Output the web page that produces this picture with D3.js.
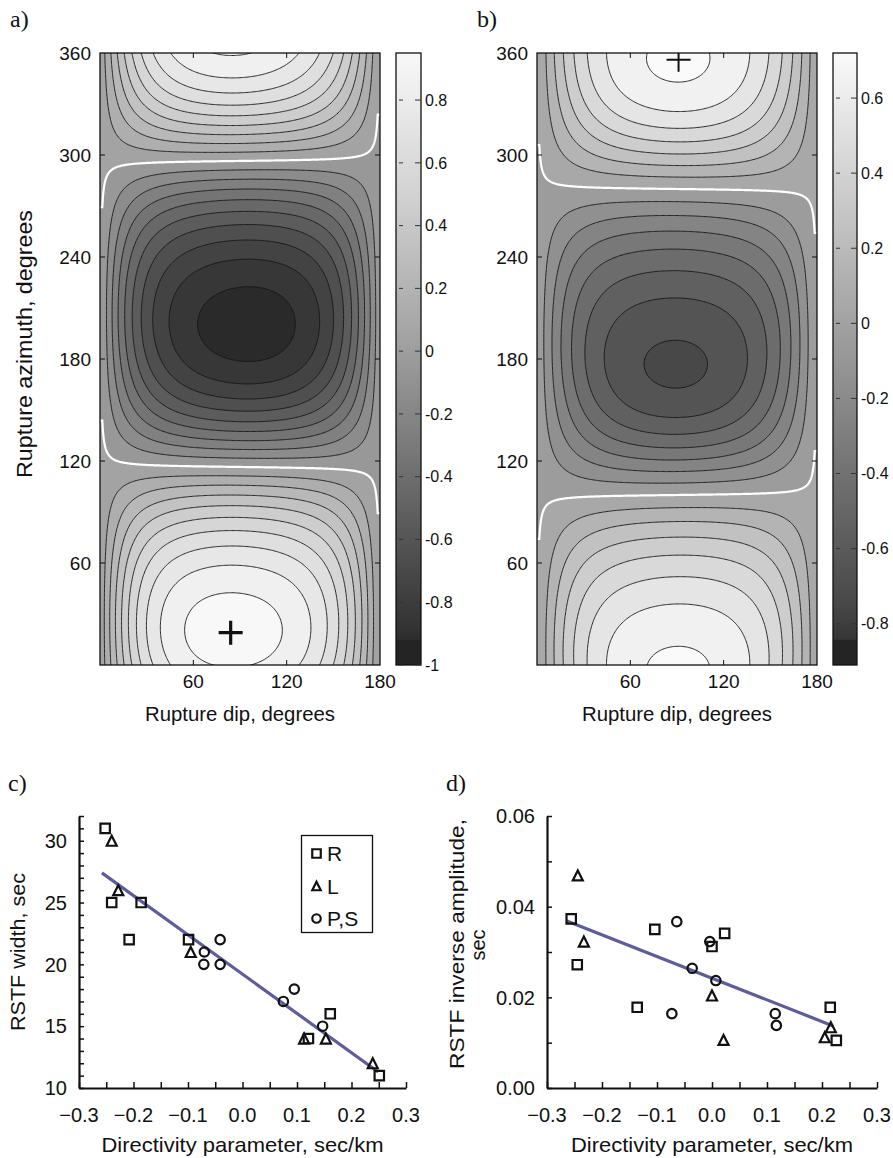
<!DOCTYPE html>
<html>
<head>
<meta charset="utf-8">
<script src="https://cdn.jsdelivr.net/npm/d3@7"></script>
<style>
body { margin: 0; background: #fff; }
svg { display: block; }
</style>
</head>
<body>
<svg></svg>
<script>
// ---------- data ----------
// contour levels
const levelsA = [-0.9, -0.8, -0.7, -0.6, -0.5, -0.4, -0.3, -0.2, -0.1, 0, 0.1, 0.2, 0.3, 0.4, 0.5, 0.6, 0.7, 0.8, 0.9];
const levelsB = [-0.7, -0.6, -0.5, -0.4, -0.3, -0.2, -0.1, 0, 0.1, 0.2, 0.3, 0.4, 0.5, 0.6, 0.7];

// correlation surface: r(v) = s.v / sqrt(v' C v), v = rupture unit vector
const slowA = [0.8815, 0.4395, 0.0118];
const covA = [[0.946, 0.170, -0.0197], [0.170, 0.934, -0.0072], [-0.0197, -0.0072, 0.35]];
const slowB = [0.7337, 0.1294, -0.0085];
const covB = [[1.0434, 0.2462, -0.006], [0.2462, 0.9566, 0], [-0.006, 0, 0.42]];
const dipGrid = [1.5, 178.5];   // dip range of the computed grid

// best rupture (dip, azimuth)
const peakA = [84, 19];
const peakB = [91, 356];

const azTicks = [60, 120, 180, 240, 300, 360];
const dipTicks = [60, 120, 180];
const cbTicksA = [0.8, 0.6, 0.4, 0.2, 0, -0.2, -0.4, -0.6, -0.8, -1];
const cbTicksB = [0.6, 0.4, 0.2, 0, -0.2, -0.4, -0.6, -0.8];

// panel c: RSTF width vs directivity parameter
const rC = [[-0.252, 31], [-0.240, 25], [-0.186, 25], [-0.208, 22], [-0.099, 22], [0.121, 14], [0.161, 16], [0.251, 11]];
const lC = [[-0.240, 30], [-0.228, 26], [-0.095, 21], [0.113, 14], [0.153, 14], [0.239, 12]];
const psC = [[-0.070, 21], [-0.071, 20], [-0.041, 22], [-0.041, 20], [0.075, 17], [0.095, 18], [0.147, 15]];
const fitC = [[-0.258, 27.4], [0.249, 11.3]];

// panel d: RSTF inverse amplitude vs directivity parameter
const rD = [[-0.256, 0.0373], [-0.245, 0.0272], [-0.104, 0.0350], [-0.136, 0.0178], [0.000, 0.0312], [0.023, 0.0341], [0.215, 0.0178], [0.226, 0.0105]];
const lD = [[-0.244, 0.0469], [-0.233, 0.0323], [0.000, 0.0204], [0.021, 0.0106], [0.205, 0.0112], [0.216, 0.0134]];
const psD = [[-0.064, 0.0367], [-0.004, 0.0323], [-0.036, 0.0264], [0.007, 0.0237], [-0.073, 0.0164], [0.115, 0.0164], [0.117, 0.0138]];
const fitD = [[-0.265, 0.0369], [0.220, 0.0137]];

const dirTicks = [-0.3, -0.2, -0.1, 0, 0.1, 0.2, 0.3];
const widthTicks = [10, 15, 20, 25, 30];
const ampTicks = [0, 0.02, 0.04, 0.06];

// ---------- setup ----------
const W = 893, H = 1158;
const svg = d3.select("svg").attr("width", W).attr("height", H).attr("viewBox", [0, 0, W, H]);
svg.append("rect").attr("width", W).attr("height", H).attr("fill", "white");
const sans = "'Liberation Sans', Arial, Helvetica, sans-serif";
const serif = "'Liberation Serif', 'Times New Roman', serif";
const ink = "#111";
const defs = svg.append("defs");

function corr(s, C, dip, az) {
    const d = Math.max(dipGrid[0], Math.min(dipGrid[1], dip));
    const t = d * Math.PI / 180, p = az * Math.PI / 180;
    const v = [Math.sin(t) * Math.cos(p), Math.sin(t) * Math.sin(p), Math.cos(t)];
    let num = 0, den = 0;
    for (let i = 0; i < 3; i++) {
        num += s[i] * v[i];
        for (let j = 0; j < 3; j++) den += v[i] * C[i][j] * v[j];
    }
    return num / Math.sqrt(den);
}

const grey = g => { const k = Math.round(g); return d3.rgb(k, k, k).formatHex(); };

function contourPanel(o) {
    const g = svg.append("g");
    const x = d3.scaleLinear([0, 180], [o.x0, o.x1]);
    const y = d3.scaleLinear([0, 360], [665, 53]);
    const shade = d3.scaleLinear().domain(o.shadeDomain).range(o.shadeRange).clamp(true);

    // grid a bit wider than the plot so boundary rings fall outside the clip
    const step = 0.75, d0 = -3, a0 = -3;
    const nx = Math.round(186 / step) + 1, ny = Math.round(366 / step) + 1;
    const vals = new Float64Array(nx * ny);
    for (let j = 0; j < ny; j++)
        for (let i = 0; i < nx; i++)
            vals[j * nx + i] = corr(o.slow, o.cov, d0 + i * step, a0 + j * step);

    const proj = d3.geoTransform({
        point(px, py) { this.stream.point(x(d0 + (px - 0.5) * step), y(a0 + (py - 0.5) * step)); }
    });
    const path = d3.geoPath(proj);
    const bands = d3.contours().size([nx, ny]).thresholds(o.levels)(vals);

    defs.append("clipPath").attr("id", o.id + "clip")
        .append("rect").attr("x", o.x0).attr("y", 53).attr("width", o.x1 - o.x0).attr("height", 612);
    const pg = g.append("g").attr("clip-path", `url(#${o.id}clip)`);

    pg.append("rect").attr("x", o.x0).attr("y", 53).attr("width", o.x1 - o.x0).attr("height", 612)
        .attr("fill", grey(shade(o.levels[0] - 0.05)));
    pg.selectAll("path.band").data(bands).join("path")
        .attr("class", "band")
        .attr("d", path)
        .attr("fill", d => grey(shade(d.value + 0.05)));
    pg.selectAll("path.iso").data(bands).join("path")
        .attr("class", "iso")
        .attr("d", path)
        .attr("fill", "none")
        .attr("stroke", d => Math.abs(d.value) < 1e-9 ? "#ffffff" : "#151515")
        .attr("stroke-width", d => Math.abs(d.value) < 1e-9 ? 2.2 : 0.9);

    // best-fit marker
    const px = x(o.peak[0]), py = y(o.peak[1]);
    pg.append("path")
        .attr("d", `M${px - o.plus},${py}H${px + o.plus}M${px},${py - o.plus}V${py + o.plus}`)
        .attr("stroke", ink).attr("stroke-width", o.plusW).attr("fill", "none");

    // frame and inner ticks
    g.append("rect").attr("x", o.x0).attr("y", 53).attr("width", o.x1 - o.x0).attr("height", 612)
        .attr("fill", "none").attr("stroke", ink).attr("stroke-width", 1.3);
    const tk = g.append("g").attr("stroke", ink).attr("stroke-width", 1);
    azTicks.filter(v => v < 360).forEach(v => {
        tk.append("line").attr("x1", o.x0).attr("x2", o.x0 + 5).attr("y1", y(v)).attr("y2", y(v));
        tk.append("line").attr("x1", o.x1 - 5).attr("x2", o.x1).attr("y1", y(v)).attr("y2", y(v));
    });
    dipTicks.filter(v => v < 180).forEach(v => {
        tk.append("line").attr("x1", x(v)).attr("x2", x(v)).attr("y1", 665).attr("y2", 660);
        tk.append("line").attr("x1", x(v)).attr("x2", x(v)).attr("y1", 53).attr("y2", 58);
    });

    const lab = g.append("g").attr("font-family", sans).attr("font-size", 19).attr("fill", ink);
    lab.selectAll("text.yt").data(azTicks).join("text").attr("class", "yt")
        .attr("x", o.x0 - 9).attr("y", v => y(v)).attr("dy", "0.36em")
        .attr("text-anchor", "end").text(v => v);
    lab.selectAll("text.xt").data(dipTicks).join("text").attr("class", "xt")
        .attr("x", v => x(v)).attr("y", 688)
        .attr("text-anchor", "middle").text(v => v);
    g.append("text").attr("x", (o.x0 + o.x1) / 2).attr("y", 721)
        .attr("text-anchor", "middle").attr("font-family", sans).attr("font-size", 20)
        .attr("textLength", 190).attr("lengthAdjust", "spacingAndGlyphs")
        .attr("fill", ink).text("Rupture dip, degrees");

    // colour bar
    const cy = d3.scaleLinear(o.cbDomain, [665, 53]);
    const grad = defs.append("linearGradient").attr("id", o.id + "grad")
        .attr("x1", 0).attr("y1", 1).attr("x2", 0).attr("y2", 0);
    const nStop = 40;
    for (let k = 0; k <= nStop; k++) {
        const v = o.cbDomain[0] + (o.cbDomain[1] - o.cbDomain[0]) * k / nStop;
        grad.append("stop").attr("offset", k / nStop).attr("stop-color", grey(shade(v)));
    }
    g.append("rect").attr("x", o.cx0).attr("y", 53).attr("width", o.cx1 - o.cx0).attr("height", 612)
        .attr("fill", `url(#${o.id}grad)`);
    g.append("rect").attr("x", o.cx0).attr("y", cy(o.cbBlock)).attr("width", o.cx1 - o.cx0)
        .attr("height", 665 - cy(o.cbBlock)).attr("fill", "#242424");
    g.append("rect").attr("x", o.cx0).attr("y", 53).attr("width", o.cx1 - o.cx0).attr("height", 612)
        .attr("fill", "none").attr("stroke", ink).attr("stroke-width", 1.3);
    const ct = g.append("g").attr("stroke", "#333").attr("stroke-width", 1);
    o.cbTicks.forEach(v => {
        ct.append("line").attr("x1", o.cx0 + 3).attr("x2", o.cx0 + 7).attr("y1", cy(v)).attr("y2", cy(v));
        ct.append("line").attr("x1", o.cx1 - 6).attr("x2", o.cx1).attr("y1", cy(v)).attr("y2", cy(v));
    });
    g.append("g").attr("font-family", sans).attr("font-size", 16).attr("fill", ink)
        .selectAll("text").data(o.cbTicks).join("text")
        .attr("x", o.cx1 + 4).attr("y", v => cy(v)).attr("dy", "0.36em").text(v => String(v));

    svg.append("text").attr("x", o.tagX).attr("y", 27)
        .attr("font-family", serif).attr("font-size", 24).attr("fill", ink).text(o.tag);
    return g;
}

contourPanel({
    id: "pa", tag: "a)", tagX: 10, x0: 100, x1: 380, cx0: 396, cx1: 421,
    slow: slowA, cov: covA, levels: levelsA, peak: peakA, plus: 12, plusW: 3.2,
    shadeDomain: [-1, -0.5, 0, 0.5, 0.95], shadeRange: [36, 98, 158, 210, 248],
    cbDomain: [-1, 0.95], cbBlock: -0.92, cbTicks: cbTicksA
});
contourPanel({
    id: "pb", tag: "b)", tagX: 477, x0: 537, x1: 817, cx0: 833, cx1: 857,
    slow: slowB, cov: covB, levels: levelsB, peak: peakB, plus: 12, plusW: 2,
    shadeDomain: [-0.91, -0.75, 0, 0.72], shadeRange: [40, 72, 162, 250],
    cbDomain: [-0.91, 0.72], cbBlock: -0.843, cbTicks: cbTicksB
});

svg.append("text")
    .attr("transform", "translate(32,344) rotate(-90)")
    .attr("text-anchor", "middle").attr("font-family", sans).attr("font-size", 22)
    .attr("textLength", 268).attr("lengthAdjust", "spacingAndGlyphs")
    .attr("fill", ink).text("Rupture azimuth, degrees");

// ---------- scatter panels ----------
function markers(g, x, y, data, kind, sz) {
    const h = sz / 2;
    g.selectAll(null).data(data).join("path")
        .attr("d", d => {
            const cx = x(d[0]), cy = y(d[1]);
            if (kind === "sq") return `M${cx - h},${cy - h}h${sz}v${sz}h${-sz}Z`;
            if (kind === "tri") return `M${cx},${cy - h}L${cx + h},${cy + h}L${cx - h},${cy + h}Z`;
            return `M${cx + h},${cy}A${h},${h} 0 1,1 ${cx - h},${cy}A${h},${h} 0 1,1 ${cx + h},${cy}Z`;
        })
        .attr("fill", "none").attr("stroke", ink).attr("stroke-width", 2.2);
}

function scatterPanel(o) {
    const g = svg.append("g");
    const x = d3.scaleLinear([-0.3, 0.3], [o.x0, o.x1]);
    const y = d3.scaleLinear(o.yDomain, [1088, 816]);

    g.append("g").attr("transform", "translate(0,1088)")
        .call(d3.axisBottom(x).tickValues(d3.range(-0.3, 0.31, 0.05)).tickSize(-6).tickSizeOuter(0).tickFormat(""));
    g.append("g").attr("transform", `translate(${o.x0},0)`)
        .call(d3.axisLeft(y).tickValues(o.yMinor).tickSize(-5).tickSizeOuter(0).tickFormat(""));
    g.selectAll(".tick line").attr("stroke", ink).attr("stroke-width", 1.5);
    g.selectAll(".domain").attr("stroke", ink).attr("stroke-width", 2.2);

    const lab = g.append("g").attr("font-family", sans).attr("font-size", 20).attr("fill", ink);
    lab.selectAll("text.xt").data(dirTicks).join("text").attr("class", "xt")
        .attr("x", v => x(v)).attr("y", 1122).attr("text-anchor", "middle")
        .text(d3.format(".1f"));
    lab.selectAll("text.yt").data(o.yTicks).join("text").attr("class", "yt")
        .attr("x", o.x0 - 12).attr("y", v => y(v)).attr("dy", "0.36em").attr("text-anchor", "end")
        .text(o.yFormat);
    g.append("text").attr("x", (o.x0 + o.x1) / 2).attr("y", 1152).attr("text-anchor", "middle")
        .attr("font-family", sans).attr("font-size", 21)
        .attr("textLength", 282).attr("lengthAdjust", "spacingAndGlyphs")
        .attr("fill", ink).text("Directivity parameter, sec/km");

    g.append("line")
        .attr("x1", x(o.fit[0][0])).attr("y1", y(o.fit[0][1]))
        .attr("x2", x(o.fit[1][0])).attr("y2", y(o.fit[1][1]))
        .attr("stroke", "#5d5d9e").attr("stroke-width", 3.2);

    markers(g, x, y, o.R, "sq", 9.4);
    markers(g, x, y, o.L, "tri", 10);
    markers(g, x, y, o.PS, "ci", 9.4);

    svg.append("text").attr("x", o.tagX).attr("y", 791)
        .attr("font-family", serif).attr("font-size", 24).attr("fill", ink).text(o.tag);
    return g;
}

scatterPanel({
    tag: "c)", tagX: 8, x0: 79, x1: 406, yDomain: [10, 32],
    yMinor: d3.range(10, 33, 1), yTicks: widthTicks, yFormat: d3.format("d"),
    R: rC, L: lC, PS: psC, fit: fitC
});
scatterPanel({
    tag: "d)", tagX: 446, x0: 547, x1: 877, yDomain: [0, 0.06],
    yMinor: d3.range(0, 0.0601, 0.01), yTicks: ampTicks, yFormat: d3.format(".2f"),
    R: rD, L: lD, PS: psD, fit: fitD
});

svg.append("text")
    .attr("transform", "translate(25,952) rotate(-90)")
    .attr("text-anchor", "middle").attr("font-family", sans).attr("font-size", 20)
    .attr("textLength", 158).attr("lengthAdjust", "spacingAndGlyphs")
    .attr("fill", ink).text("RSTF width, sec");
svg.append("text")
    .attr("transform", "translate(464,944) rotate(-90)")
    .attr("text-anchor", "middle").attr("font-family", sans).attr("font-size", 20)
    .attr("textLength", 250).attr("lengthAdjust", "spacingAndGlyphs")
    .attr("fill", ink).text("RSTF inverse amplitude,");
svg.append("text")
    .attr("transform", "translate(485,945) rotate(-90)")
    .attr("text-anchor", "middle").attr("font-family", sans).attr("font-size", 20)
    .attr("fill", ink).text("sec");

// legend (panel c)
const lg = svg.append("g");
lg.append("rect").attr("x", 301.5).attr("y", 835.5).attr("width", 71).attr("height", 97)
    .attr("fill", "white").attr("stroke", ink).attr("stroke-width", 1.3);
const legendItems = [["sq", "R"], ["tri", "L"], ["ci", "P,S"]];
legendItems.forEach(([k, t], i) => {
    const cy = 853.5 + i * 32.5;
    markers(lg, v => v, v => v, [[316.5, cy]], k, 8.5);
    lg.append("text").attr("x", 327).attr("y", cy).attr("dy", "0.36em")
        .attr("font-family", sans).attr("font-size", 21).attr("fill", ink).text(t);
});
</script>
</body>
</html>
